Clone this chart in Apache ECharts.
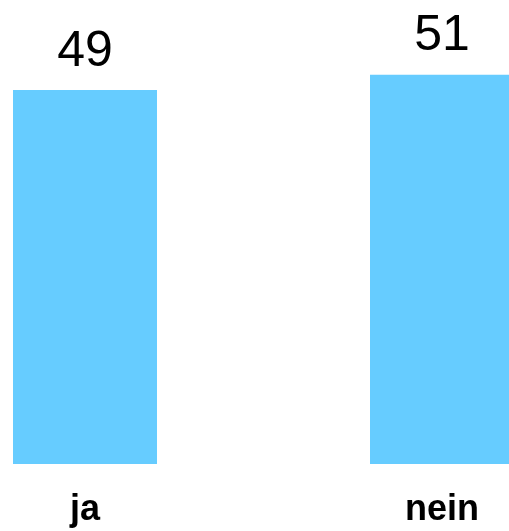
<!DOCTYPE html>
<html>
<head>
<meta charset="utf-8">
<script src="https://cdn.jsdelivr.net/npm/echarts@6/dist/echarts.min.js"></script>
<style>
  html, body { margin: 0; padding: 0; background: #fff; }
  #chart { width: 509px; height: 531px; }
</style>
</head>
<body>
<div id="chart"></div>
<script>
const categories = ['ja', 'nein']
const values = [49, 51]

const chart = echarts.init(document.getElementById('chart'))

const option = {
  backgroundColor: '#ffffff',
  animation: false,
  grid: {
    left: 85,
    right: 67,
    top: 6,
    bottom: 67,
    outerBoundsMode: 'none'
  },
  xAxis: {
    type: 'category',
    data: categories,
    boundaryGap: false,
    axisLine: { show: false },
    axisTick: { show: false },
    axisLabel: {
      color: '#000',
      fontFamily: 'Liberation Sans',
      fontWeight: 'bold',
      fontSize: 36,
      margin: 28
    }
  },
  yAxis: {
    type: 'value',
    min: 0,
    max: 60,
    show: false,
    splitLine: { show: false }
  },
  series: [
    {
      type: 'bar',
      data: values,
      barWidth: 144,
      clip: false,
      itemStyle: { color: '#66ccff' },
      label: {
        show: true,
        position: 'top',
        distance: 13,
        color: '#000',
        fontFamily: 'Liberation Sans',
        fontSize: 50
      }
    }
  ]
}

chart.setOption(option)
</script>
</body>
</html>
